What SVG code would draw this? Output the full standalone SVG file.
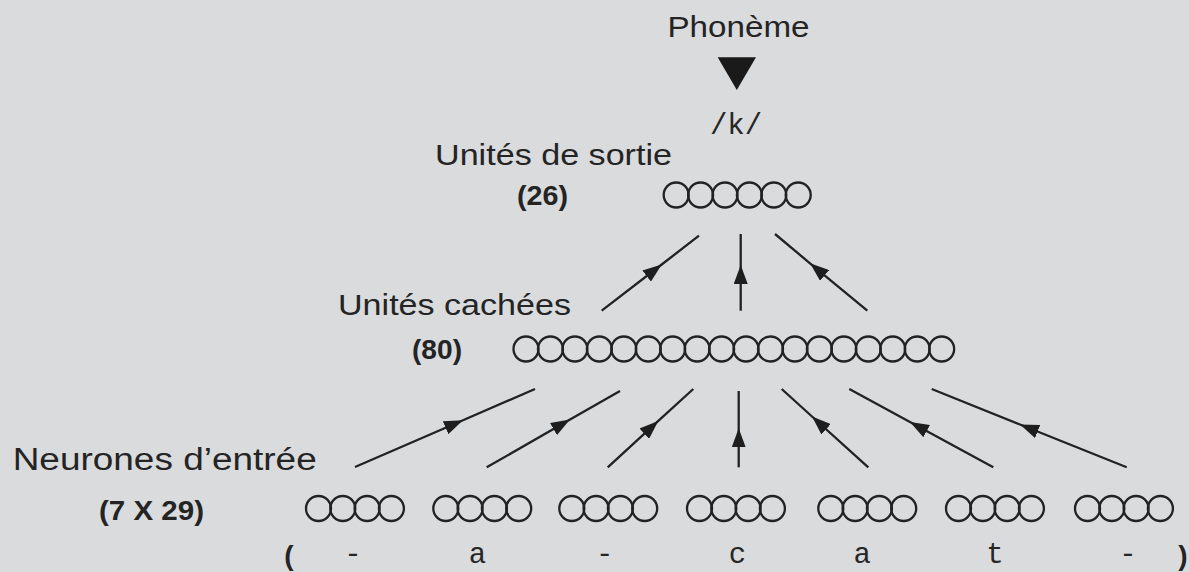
<svg xmlns="http://www.w3.org/2000/svg" width="1189" height="572" viewBox="0 0 1189 572">
  <defs>
    <style>
      .lbl { font-family: "Liberation Sans", Arial, sans-serif; fill: #242424; }
      .big { font-size: 30px; }
      .cnt { font-size: 28px; font-weight: bold; }
      .mono { font-family: "Liberation Mono", "Courier New", monospace; font-size: 29px; fill: #262626; text-anchor: middle; }
      .unit { fill: none; stroke: #222; stroke-width: 2.3; }
      .wire { fill: none; stroke: #222; stroke-width: 2.3; marker-mid: url(#head); }
    </style>
    <marker id="head" viewBox="0 0 19 14" refX="19" refY="7" markerWidth="19" markerHeight="14" markerUnits="userSpaceOnUse" orient="auto">
      <path d="M0,0 L19,7 L0,14 Z" fill="#1e1e1e"/>
    </marker>
    <circle id="u" r="12.5" class="unit"/>
    <g id="quad">
      <use href="#u" x="0"/>
      <use href="#u" x="24.3"/>
      <use href="#u" x="48.6"/>
      <use href="#u" x="72.9"/>
    </g>
  </defs>

  <rect width="1189" height="572" fill="#d9dbdd"/>

  <!-- phoneme output -->
  <g id="phoneme">
    <text class="lbl" x="667.5" y="37" font-size="29" textLength="142" lengthAdjust="spacingAndGlyphs">Phonème</text>
    <polygon points="717.7,57.3 756,57.3 736.8,90" fill="#1a1a1a"/>
    <text class="mono" x="736" y="134" font-size="30">/k/</text>
  </g>

  <!-- output layer: 26 units -->
  <g id="output-layer">
    <text class="lbl big" x="435" y="165" textLength="237" lengthAdjust="spacingAndGlyphs">Unités de sortie</text>
    <text class="lbl cnt" x="517" y="205" textLength="51" lengthAdjust="spacingAndGlyphs">(26)</text>
    <g transform="translate(676.2,195)">
      <use href="#u" x="0"/>
      <use href="#u" x="24.4"/>
      <use href="#u" x="48.8"/>
      <use href="#u" x="73.2"/>
      <use href="#u" x="97.6"/>
      <use href="#u" x="122"/>
    </g>
  </g>

  <!-- hidden layer: 80 units -->
  <g id="hidden-layer">
    <text class="lbl big" x="338" y="315" textLength="233" lengthAdjust="spacingAndGlyphs">Unités cachées</text>
    <text class="lbl cnt" x="412" y="359" textLength="50" lengthAdjust="spacingAndGlyphs">(80)</text>
    <g transform="translate(526,349)">
      <use href="#u" x="0"/>
      <use href="#u" x="24.45"/>
      <use href="#u" x="48.9"/>
      <use href="#u" x="73.35"/>
      <use href="#u" x="97.8"/>
      <use href="#u" x="122.25"/>
      <use href="#u" x="146.7"/>
      <use href="#u" x="171.15"/>
      <use href="#u" x="195.6"/>
      <use href="#u" x="220.05"/>
      <use href="#u" x="244.5"/>
      <use href="#u" x="268.95"/>
      <use href="#u" x="293.4"/>
      <use href="#u" x="317.85"/>
      <use href="#u" x="342.3"/>
      <use href="#u" x="366.75"/>
      <use href="#u" x="391.2"/>
      <use href="#u" x="415.65"/>
    </g>
  </g>

  <!-- input layer: 7 letter slots x 29 units -->
  <g id="input-layer">
    <text class="lbl" x="12.7" y="470" font-size="31" textLength="304" lengthAdjust="spacingAndGlyphs">Neurones d’entrée</text>
    <text class="lbl cnt" x="99" y="519.5" textLength="105" lengthAdjust="spacingAndGlyphs">(7 X 29)</text>
    <use href="#quad" x="318.5" y="508.5"/>
    <use href="#quad" x="445.8" y="508.5"/>
    <use href="#quad" x="571.8" y="508.5"/>
    <use href="#quad" x="699.5" y="508.5"/>
    <use href="#quad" x="830.8" y="508.5"/>
    <use href="#quad" x="958.5" y="508.5"/>
    <use href="#quad" x="1087.5" y="508.5"/>
  </g>

  <!-- input window text -->
  <g id="input-window">
    <text class="lbl" x="289" y="565" font-size="28" font-weight="bold" text-anchor="middle">(</text>
    <text class="mono" x="353" y="563">-</text>
    <text class="mono" x="477.5" y="563">a</text>
    <text class="mono" x="604.7" y="563">-</text>
    <text class="mono" x="737.5" y="563">c</text>
    <text class="mono" x="862.3" y="563">a</text>
    <text class="mono" x="995" y="563">t</text>
    <text class="mono" x="1128" y="563">-</text>
    <text class="lbl" x="1183" y="565" font-size="28" font-weight="bold" text-anchor="middle">)</text>
  </g>

  <!-- weighted connections, arrowhead drawn partway along each line -->
  <g id="connectors">
    <path class="wire" d="M355,467 L463,420.2 L535,389"/>
    <path class="wire" d="M486.7,467.3 L570,419.6 L620,391"/>
    <path class="wire" d="M607.7,467.3 L658.3,420.9 L693.3,389"/>
    <path class="wire" d="M738.7,467.3 L738.7,428.3 L738.7,391"/>
    <path class="wire" d="M868.3,467.3 L812,416.5 L781.7,389"/>
    <path class="wire" d="M993.3,467.3 L910,422 L849.3,389"/>
    <path class="wire" d="M1126.7,467.3 L1020,424.5 L931.7,389"/>
    <path class="wire" d="M601.7,310.7 L661.7,264.5 L699,235.7"/>
    <path class="wire" d="M740.7,310.7 L740.7,265 L740.7,234"/>
    <path class="wire" d="M867.3,310.7 L810,263.3 L775,234"/>
  </g>
</svg>
